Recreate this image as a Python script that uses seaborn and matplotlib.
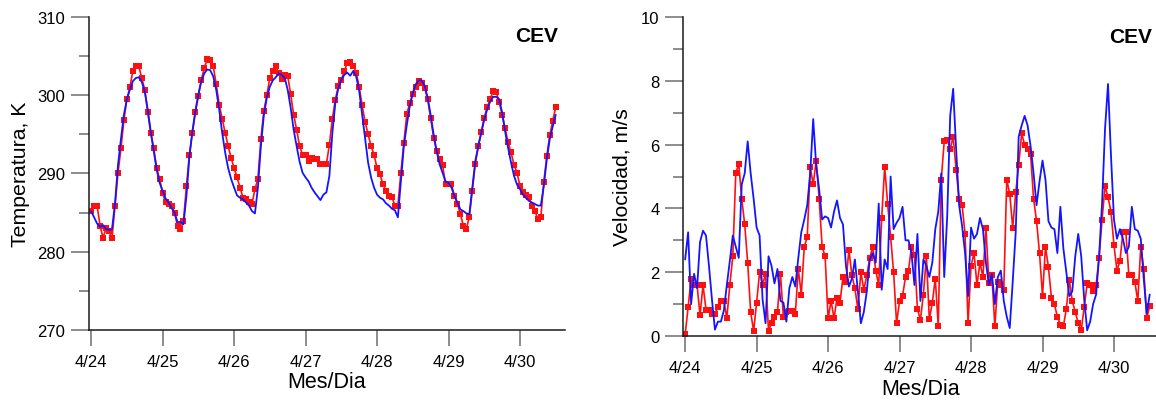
import numpy as np
import pandas as pd
import matplotlib
matplotlib.use("Agg")
import matplotlib.pyplot as plt
from matplotlib.ticker import MultipleLocator
import seaborn as sns

# Hourly series from 4/24 00:00 to 4/30 12:00 (157 samples)
hours = list(range(157))
day_labels = ["4/24", "4/25", "4/26", "4/27", "4/28", "4/29", "4/30"]

# Temperature (K): observed (red) and modelled (blue)
temp_obs = [
    285.2, 285.8, 285.9, 283.3, 281.8, 283.0, 282.6, 281.7, 285.9, 290.0, 293.2, 296.8,
    299.5, 301.0, 303.1, 303.8, 303.7, 302.2, 300.7, 297.8, 295.2, 293.3, 290.7, 289.3,
    287.5, 286.3, 286.1, 285.9, 285.0, 283.3, 282.9, 283.9, 288.4, 292.4, 295.2, 297.8,
    299.9, 302.0, 303.5, 304.6, 304.5, 303.7, 301.4, 298.8, 297.0, 295.2, 293.5, 292.0,
    290.7, 289.5, 288.2, 286.9, 286.7, 286.4, 286.1, 288.0, 289.3, 294.4, 298.0, 300.0,
    302.2, 303.1, 303.7, 302.8, 302.1, 302.6, 302.5, 300.1, 297.5, 295.6, 293.5, 292.4,
    292.4, 291.6, 292.0, 291.9, 291.8, 291.2, 291.2, 291.2, 293.7, 297.0, 299.4, 301.2,
    301.9, 303.1, 304.1, 304.3, 303.8, 302.9, 301.1, 298.7, 296.6, 295.0, 293.5, 292.4,
    290.7, 289.9, 288.6, 287.8, 287.1, 287.0, 285.9, 285.9, 290.1, 293.9, 297.6, 299.0,
    300.1, 301.1, 301.8, 301.6, 300.9, 299.5, 297.1, 294.6, 292.9, 291.8, 291.1, 288.6,
    288.6, 288.6, 287.1, 286.1, 284.8, 283.3, 282.9, 284.5, 287.8, 291.2, 293.5, 295.3,
    297.1, 298.5, 299.5, 300.5, 300.4, 299.2, 297.5, 295.8, 294.0, 292.7, 291.1, 290.1,
    288.4, 287.6, 287.3, 287.0, 285.9, 285.2, 284.2, 284.4, 288.9, 292.2, 294.9, 296.7,
    298.5,
]
temp_mod = [
    285.2, 284.4, 283.6, 283.2, 283.4, 282.9, 282.8, 282.9, 286.1, 291.0, 294.4, 297.5,
    299.5, 300.7, 301.8, 302.2, 302.3, 301.7, 300.5, 298.2, 295.4, 292.9, 290.5, 288.8,
    287.8, 286.8, 286.3, 285.6, 285.0, 283.8, 283.8, 283.5, 287.1, 292.2, 295.4, 298.0,
    300.1, 301.8, 302.8, 303.3, 303.2, 302.4, 300.7, 298.2, 295.2, 292.7, 290.7, 289.3,
    288.2, 287.2, 286.9, 286.7, 286.3, 285.9, 285.2, 284.9, 288.2, 293.5, 297.5, 299.7,
    301.1, 301.9, 302.3, 302.8, 302.6, 302.2, 300.7, 298.4, 295.6, 293.5, 291.5, 290.1,
    289.5, 289.0, 288.2, 287.6, 287.1, 286.6, 287.3, 287.6, 289.7, 295.2, 299.0, 300.9,
    302.0, 302.6, 302.9, 302.5, 303.1, 302.4, 300.6, 297.5, 294.4, 291.4, 289.5, 288.2,
    287.3, 286.9, 286.7, 286.2, 285.9, 285.5, 285.3, 284.4, 289.0, 293.5, 296.2, 298.6,
    300.3, 301.4, 301.9, 301.9, 301.2, 299.7, 297.5, 295.0, 292.9, 291.2, 290.1, 289.0,
    288.8, 288.2, 287.1, 286.3, 285.4, 285.2, 284.9, 284.8, 288.2, 291.6, 293.5, 295.2,
    296.9, 298.2, 299.2, 299.8, 299.8, 299.5, 297.8, 295.4, 293.3, 291.4, 289.7, 288.6,
    288.0, 287.3, 286.9, 286.5, 286.3, 286.1, 285.9, 285.9, 288.4, 291.8, 294.4, 296.0,
    297.5,
]

# Wind speed (m/s): observed (red) and modelled (blue)
wind_obs = [
    0.05, 0.9, 1.8, 1.6, 1.6, 0.65, 1.6, 0.83, 0.8, 0.7, 0.7, 0.9,
    1.1, 1.1, 0.56, 1.6, 2.5, 5.1, 5.4, 4.3, 3.5, 2.3, 0.75, 0.15,
    1.05, 2.0, 1.6, 1.95, 0.15, 0.4, 0.6, 0.75, 1.95, 0.6, 0.75, 0.78,
    0.77, 0.7, 2.1, 1.3, 2.8, 3.1, 5.3, 4.75, 5.5, 4.3, 2.8, 2.5,
    0.55, 1.1, 0.55, 1.2, 1.05, 1.85, 1.7, 2.7, 1.9, 1.5, 0.85, 2.0,
    1.45, 1.9, 2.45, 2.8, 2.05, 1.6, 3.7, 5.3, 4.15, 3.1, 2.0, 0.4,
    1.1, 1.25, 1.85, 2.05, 2.8, 2.55, 0.85, 0.5, 1.3, 2.5, 0.52, 1.05,
    1.8, 0.3, 4.9, 6.1, 6.15, 5.85, 6.25, 5.2, 4.3, 4.1, 3.2, 0.4,
    2.2, 2.6, 1.6, 2.3, 1.85, 3.4, 1.65, 1.9, 0.3, 1.7, 1.6, 1.45,
    4.9, 4.45, 3.4, 4.5, 5.35, 6.35, 6.0, 5.85, 5.7, 4.3, 3.6, 2.6,
    1.25, 2.8, 2.15, 1.2, 1.0, 0.6, 0.35, 0.3, 0.85, 1.75, 1.1, 0.75,
    0.4, 0.18, 0.9, 1.65, 1.6, 1.4, 1.6, 2.45, 3.65, 4.7, 4.35, 3.9,
    2.85, 2.05, 2.35, 3.25, 3.25, 1.9, 1.9, 1.7, 1.1, 2.8, 2.1, 0.55,
    0.95,
]
wind_mod = [
    2.4, 3.25, 1.0, 1.95, 1.5, 2.95, 3.3, 3.15, 2.2, 1.15, 0.2, 0.45,
    0.45, 0.8, 1.6, 2.35, 3.15, 2.8, 2.45, 4.75, 5.1, 6.1, 5.1, 4.3,
    3.4, 3.15, 1.15, 0.4, 2.5, 2.2, 1.65, 2.1, 1.1, 1.05, 0.45, 1.5,
    1.85, 1.55, 2.45, 3.25, 3.65, 4.1, 5.1, 6.8, 5.35, 4.6, 3.65, 3.75,
    3.7, 3.4, 3.9, 4.25, 3.7, 3.5, 2.2, 1.55, 1.8, 2.4, 1.4, 0.4,
    0.75, 1.4, 2.4, 2.6, 2.3, 4.15, 1.45, 2.4, 2.1, 5.0, 3.35, 3.55,
    3.7, 4.05, 3.0, 3.0, 2.6, 1.6, 3.2, 1.1, 2.4, 2.2, 1.85, 2.3,
    3.35, 3.9, 5.1, 1.85, 3.75, 6.9, 7.75, 5.85, 4.1, 3.45, 2.6, 1.25,
    3.4, 3.05, 3.2, 3.7, 3.35, 2.3, 1.6, 1.95, 1.0, 1.85, 2.05, 1.1,
    0.6, 0.25, 1.7, 3.25, 6.25, 6.6, 6.9, 6.6, 5.95, 5.1, 4.1, 4.85,
    5.5, 4.9, 3.6, 3.4, 3.35, 2.6, 4.05, 2.75, 2.0, 1.25, 1.4, 2.5,
    3.2, 2.5, 1.15, 0.18, 0.45, 1.0, 1.3, 2.5, 4.15, 6.5, 7.9, 5.65,
    3.65, 3.05, 3.35, 3.05, 2.6, 2.8, 4.05, 3.35, 3.3, 3.05, 1.8, 0.7,
    1.3,
]

df = pd.DataFrame({
    "day": np.array(hours) / 24.0,
    "temp_obs": temp_obs, "temp_mod": temp_mod,
    "wind_obs": wind_obs, "wind_mod": wind_mod,
})

sns.set_style("white")
plt.rcParams["font.family"] = ["Liberation Sans", "DejaVu Sans"]
plt.rcParams["text.color"] = "black"
plt.rcParams["axes.labelcolor"] = "black"

RED = "#ff1010"
BLUE = "#1414ff"
TICK_GREY = "#8c8c8c"

fig = plt.figure(figsize=(11.56, 4.02), dpi=100)
ax1 = fig.add_axes([89 / 1156, 71 / 402, 476 / 1156, 313 / 402])
ax2 = fig.add_axes([683 / 1156, 65 / 402, 476 / 1156, 319 / 402])


def draw(ax, obs, mod):
    sns.lineplot(data=df, x="day", y=obs, ax=ax, color=RED, lw=1.2,
                 marker="s", markersize=3.8, markeredgewidth=0,
                 markerfacecolor=RED, estimator=None, sort=False)
    sns.lineplot(data=df, x="day", y=mod, ax=ax, color=BLUE, lw=1.3,
                 estimator=None, sort=False)


draw(ax1, "temp_obs", "temp_mod")
draw(ax2, "wind_obs", "wind_mod")

for ax in (ax1, ax2):
    ax.set_xlim(-0.03, 6.63)
    ax.set_xticks(range(len(day_labels)))
    ax.set_xticklabels(day_labels)
    for s in ("top", "right"):
        ax.spines[s].set_visible(False)
    for s in ("left", "bottom"):
        ax.spines[s].set_color("#1a1a1a")
        ax.spines[s].set_linewidth(1.1)
    ax.tick_params(axis="x", which="major", bottom=True, length=11.5,
                   width=1.4, color=TICK_GREY, labelcolor="black",
                   labelsize=12, pad=6)
    ax.tick_params(axis="y", which="major", left=True, length=13,
                   width=1.4, color=TICK_GREY, labelcolor="black",
                   labelsize=12, pad=4)
    ax.tick_params(axis="y", which="minor", left=True, length=7,
                   width=1.4, color=TICK_GREY)
    ax.set_xlabel("Mes/Dia", fontsize=15.5, va="center")
    ax.text(0.94, 0.94, "CEV", transform=ax.transAxes, ha="center",
            va="center", fontsize=15, fontweight="bold", color="black")

ax1.set_ylim(270, 310)
ax1.yaxis.set_major_locator(MultipleLocator(10))
ax1.yaxis.set_minor_locator(MultipleLocator(5))
ax1.set_ylabel("Temperatura, K", fontsize=15.3, va="center")
ax1.yaxis.set_label_coords(-0.144, 0.5)
ax1.xaxis.set_label_coords(0.5, -52 / 313)

ax2.set_ylim(0, 10)
ax2.yaxis.set_major_locator(MultipleLocator(2))
ax2.yaxis.set_minor_locator(MultipleLocator(1))
ax2.set_ylabel("Velocidad, m/s", fontsize=15.3, va="center")
ax2.yaxis.set_label_coords(-0.128, 0.5)
ax2.xaxis.set_label_coords(0.5, -53 / 319)

fig.savefig("out.png", dpi=100)
